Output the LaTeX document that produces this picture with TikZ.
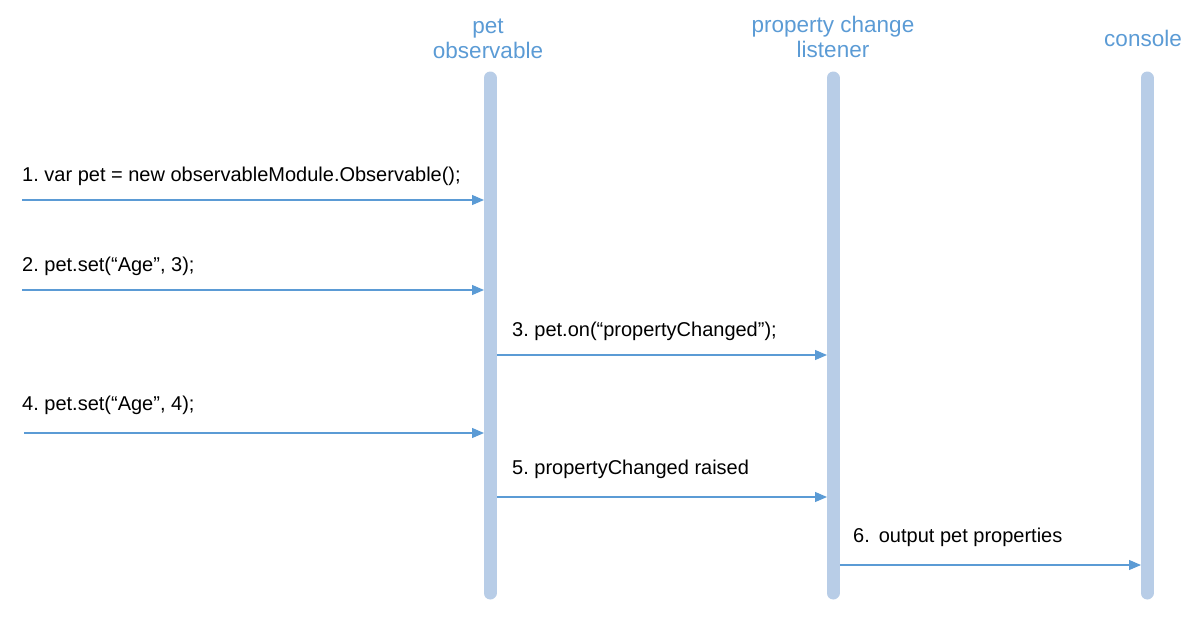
\documentclass[tikz,border=0pt]{standalone}
\usepackage{fontspec}
\setmainfont{Liberation Sans}
\usetikzlibrary{arrows.meta}
\definecolor{lifec}{HTML}{B8CDE7}
\definecolor{headc}{HTML}{5B9BD5}
\definecolor{arrc}{HTML}{5B9BD5}
\begin{document}
\begin{tikzpicture}[x=1pt,y=-1pt,
  head/.style={text=headc,font=\fontsize{22.5}{25}\selectfont,align=center,inner sep=0pt},
  lifeline/.style={draw=lifec,line width=13pt,line cap=round},
  msg/.style={draw=arrc,line width=1.2pt,-{Triangle[length=12pt,width=10pt]}},
  lbl/.style={anchor=base west,font=\fontsize{20}{24}\selectfont,inner sep=0pt,text=black}]
\useasboundingbox (0,0) rectangle (1193,618);
% heads
\node[head] (hA) at (488,39) {pet\\observable};
\node[head] (hB) at (833,37) {property change\\listener};
\node[head] (hC) at (1143,38) {console};
% lifelines
\coordinate (aT) at (490,78); \coordinate (aB) at (490,593);
\coordinate (bT) at (833,78); \coordinate (bB) at (833,593);
\coordinate (cT) at (1147,78); \coordinate (cB) at (1147,593);
\draw[lifeline] (aT) -- (aB);
\draw[lifeline] (bT) -- (bB);
\draw[lifeline] (cT) -- (cB);
% messages
\coordinate (s1) at (22,200);  \coordinate (e1) at (484,200);
\coordinate (s2) at (22,290);  \coordinate (e2) at (484,290);
\coordinate (s3) at (497,355); \coordinate (e3) at (827,355);
\coordinate (s4) at (24,433);  \coordinate (e4) at (484,433);
\coordinate (s5) at (497,497); \coordinate (e5) at (827,497);
\coordinate (s6) at (840,565); \coordinate (e6) at (1141,565);
\draw[msg] (s1) -- (e1);
\draw[msg] (s2) -- (e2);
\draw[msg] (s3) -- (e3);
\draw[msg] (s4) -- (e4);
\draw[msg] (s5) -- (e5);
\draw[msg] (s6) -- (e6);
\node[lbl] (l1) at (22,181) {1.\ var pet = new observableModule.Observable();};
\node[lbl] (l2) at (22,271) {2.\ pet.set(“Age”, 3);};
\node[lbl] (l3) at (512,336) {3.\ pet.on(“propertyChanged”);};
\node[lbl] (l4) at (22,410) {4.\ pet.set(“Age”, 4);};
\node[lbl] (l5) at (512,474) {5.\ propertyChanged raised};
\node[lbl] (l6) at (853,542) {6.\hspace{0.45em}output pet properties};
\end{tikzpicture}
\end{document}
